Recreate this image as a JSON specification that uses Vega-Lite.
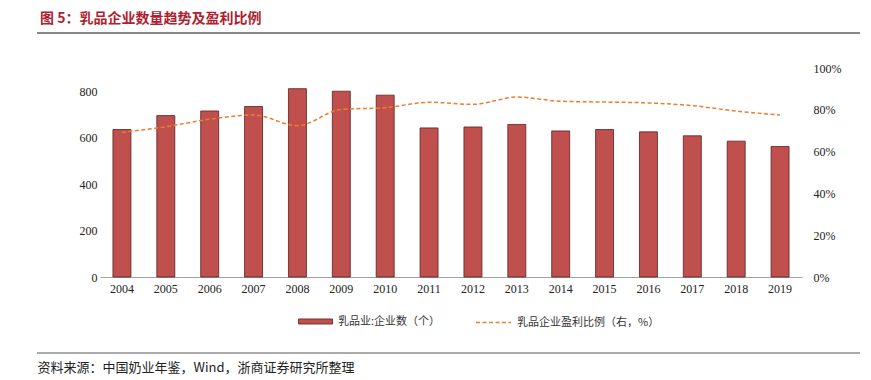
{
  "$schema": "https://vega.github.io/schema/vega-lite/v6.json",
  "width": 702,
  "height": 209,
  "autosize": {"type": "none"},
  "padding": {"left": 100, "top": 68, "right": 69, "bottom": 103},
  "background": "white",
  "title": {
    "text": "图 5：乳品企业数量趋势及盈利比例",
    "anchor": "start",
    "frame": "group",
    "dx": -60,
    "offset": 6,
    "font": "Noto Sans CJK SC",
    "fontSize": 14,
    "fontWeight": "bold",
    "color": "#B01E2F"
  },
  "data": {
    "values": [
      {"year": "2004", "count": 635, "ratio": 69.2},
      {"year": "2005", "count": 695, "ratio": 71.9},
      {"year": "2006", "count": 715, "ratio": 75.5},
      {"year": "2007", "count": 734, "ratio": 77.5},
      {"year": "2008", "count": 811, "ratio": 72.4},
      {"year": "2009", "count": 800, "ratio": 80.2},
      {"year": "2010", "count": 783, "ratio": 81.0},
      {"year": "2011", "count": 642, "ratio": 83.6},
      {"year": "2012", "count": 646, "ratio": 82.6},
      {"year": "2013", "count": 657, "ratio": 86.1},
      {"year": "2014", "count": 629, "ratio": 84.1},
      {"year": "2015", "count": 635, "ratio": 83.7},
      {"year": "2016", "count": 625, "ratio": 83.3},
      {"year": "2017", "count": 608, "ratio": 82.0},
      {"year": "2018", "count": 585, "ratio": 79.4},
      {"year": "2019", "count": 562, "ratio": 77.5}
    ]
  },
  "encoding": {
    "x": {
      "field": "year",
      "type": "ordinal",
      "scale": {"paddingInner": 0.59, "paddingOuter": 0.295},
      "axis": {
        "labelAngle": 0,
        "ticks": false,
        "domainColor": "#A0A0A0",
        "domainWidth": 1.2,
        "labelPadding": 6,
        "labelFont": "Liberation Serif",
        "labelFontSize": 12,
        "labelColor": "#222222",
        "title": "资料来源：中国奶业年鉴，Wind，浙商证券研究所整理",
        "titleFont": "Noto Sans CJK SC",
        "titleFontSize": 13,
        "titleFontWeight": "normal",
        "titleColor": "#222222",
        "titleAnchor": "start",
        "titleAlign": "left",
        "titleBaseline": "middle",
        "titleX": -63,
        "titleY": 90
      }
    }
  },
  "layer": [
    {
      "mark": {"type": "bar", "color": "#C0504D", "stroke": "#5A2020", "strokeWidth": 0.8},
      "encoding": {
        "y": {
          "field": "count",
          "type": "quantitative",
          "scale": {"domain": [0, 900]},
          "axis": {
            "values": [0, 200, 400, 600, 800],
            "grid": false,
            "domain": false,
            "ticks": false,
            "labelPadding": 3,
            "labelFont": "Liberation Serif",
            "labelFontSize": 12,
            "labelColor": "#222222",
            "title": null
          }
        },
        "fill": {
          "datum": "乳品业:企业数（个）",
          "type": "nominal",
          "scale": {"range": ["#C0504D"]},
          "legend": {
            "orient": "none",
            "legendX": 198,
            "legendY": 236,
            "title": null,
            "symbolType": "M-1,-0.15H1V0.15H-1Z",
            "symbolSize": 1156,
            "symbolStrokeColor": "#5A2020",
            "symbolStrokeWidth": 0.8,
            "labelFont": "Noto Sans CJK SC",
            "labelFontSize": 11,
            "labelColor": "#333333",
            "labelOffset": 5
          }
        }
      }
    },
    {
      "mark": {"type": "line", "interpolate": "monotone", "strokeDash": [4, 2.5], "strokeWidth": 1.5},
      "encoding": {
        "y": {
          "field": "ratio",
          "type": "quantitative",
          "scale": {"domain": [0, 100]},
          "axis": {
            "orient": "right",
            "values": [0, 20, 40, 60, 80, 100],
            "labelExpr": "datum.value + '%'",
            "grid": false,
            "domain": false,
            "ticks": false,
            "labelPadding": 11,
            "labelFont": "Liberation Serif",
            "labelFontSize": 12,
            "labelColor": "#222222",
            "title": null
          }
        },
        "stroke": {
          "datum": "乳品企业盈利比例（右，%）",
          "type": "nominal",
          "scale": {"range": ["#ED7D31"]},
          "legend": {
            "orient": "none",
            "legendX": 375,
            "legendY": 236,
            "title": null,
            "symbolType": "stroke",
            "symbolSize": 1225,
            "symbolStrokeWidth": 1.5,
            "symbolDash": [4, 2.5],
            "labelFont": "Noto Sans CJK SC",
            "labelFontSize": 11,
            "labelColor": "#333333",
            "labelOffset": 5
          }
        }
      }
    },
    {
      "data": {"values": [{"line": "header"}]},
      "mark": {"type": "rule", "color": "#606060", "strokeWidth": 1.6},
      "encoding": {
        "x": {"value": -63},
        "x2": {"value": 760},
        "y": {"value": -35}
      }
    },
    {
      "data": {"values": [{"line": "footer"}]},
      "mark": {"type": "rule", "color": "#909090", "strokeWidth": 1.4},
      "encoding": {
        "x": {"value": -63},
        "x2": {"value": 760},
        "y": {"value": 285}
      }
    }
  ],
  "resolve": {"scale": {"y": "independent", "fill": "independent", "stroke": "independent"}},
  "config": {"view": {"stroke": null}}
}
